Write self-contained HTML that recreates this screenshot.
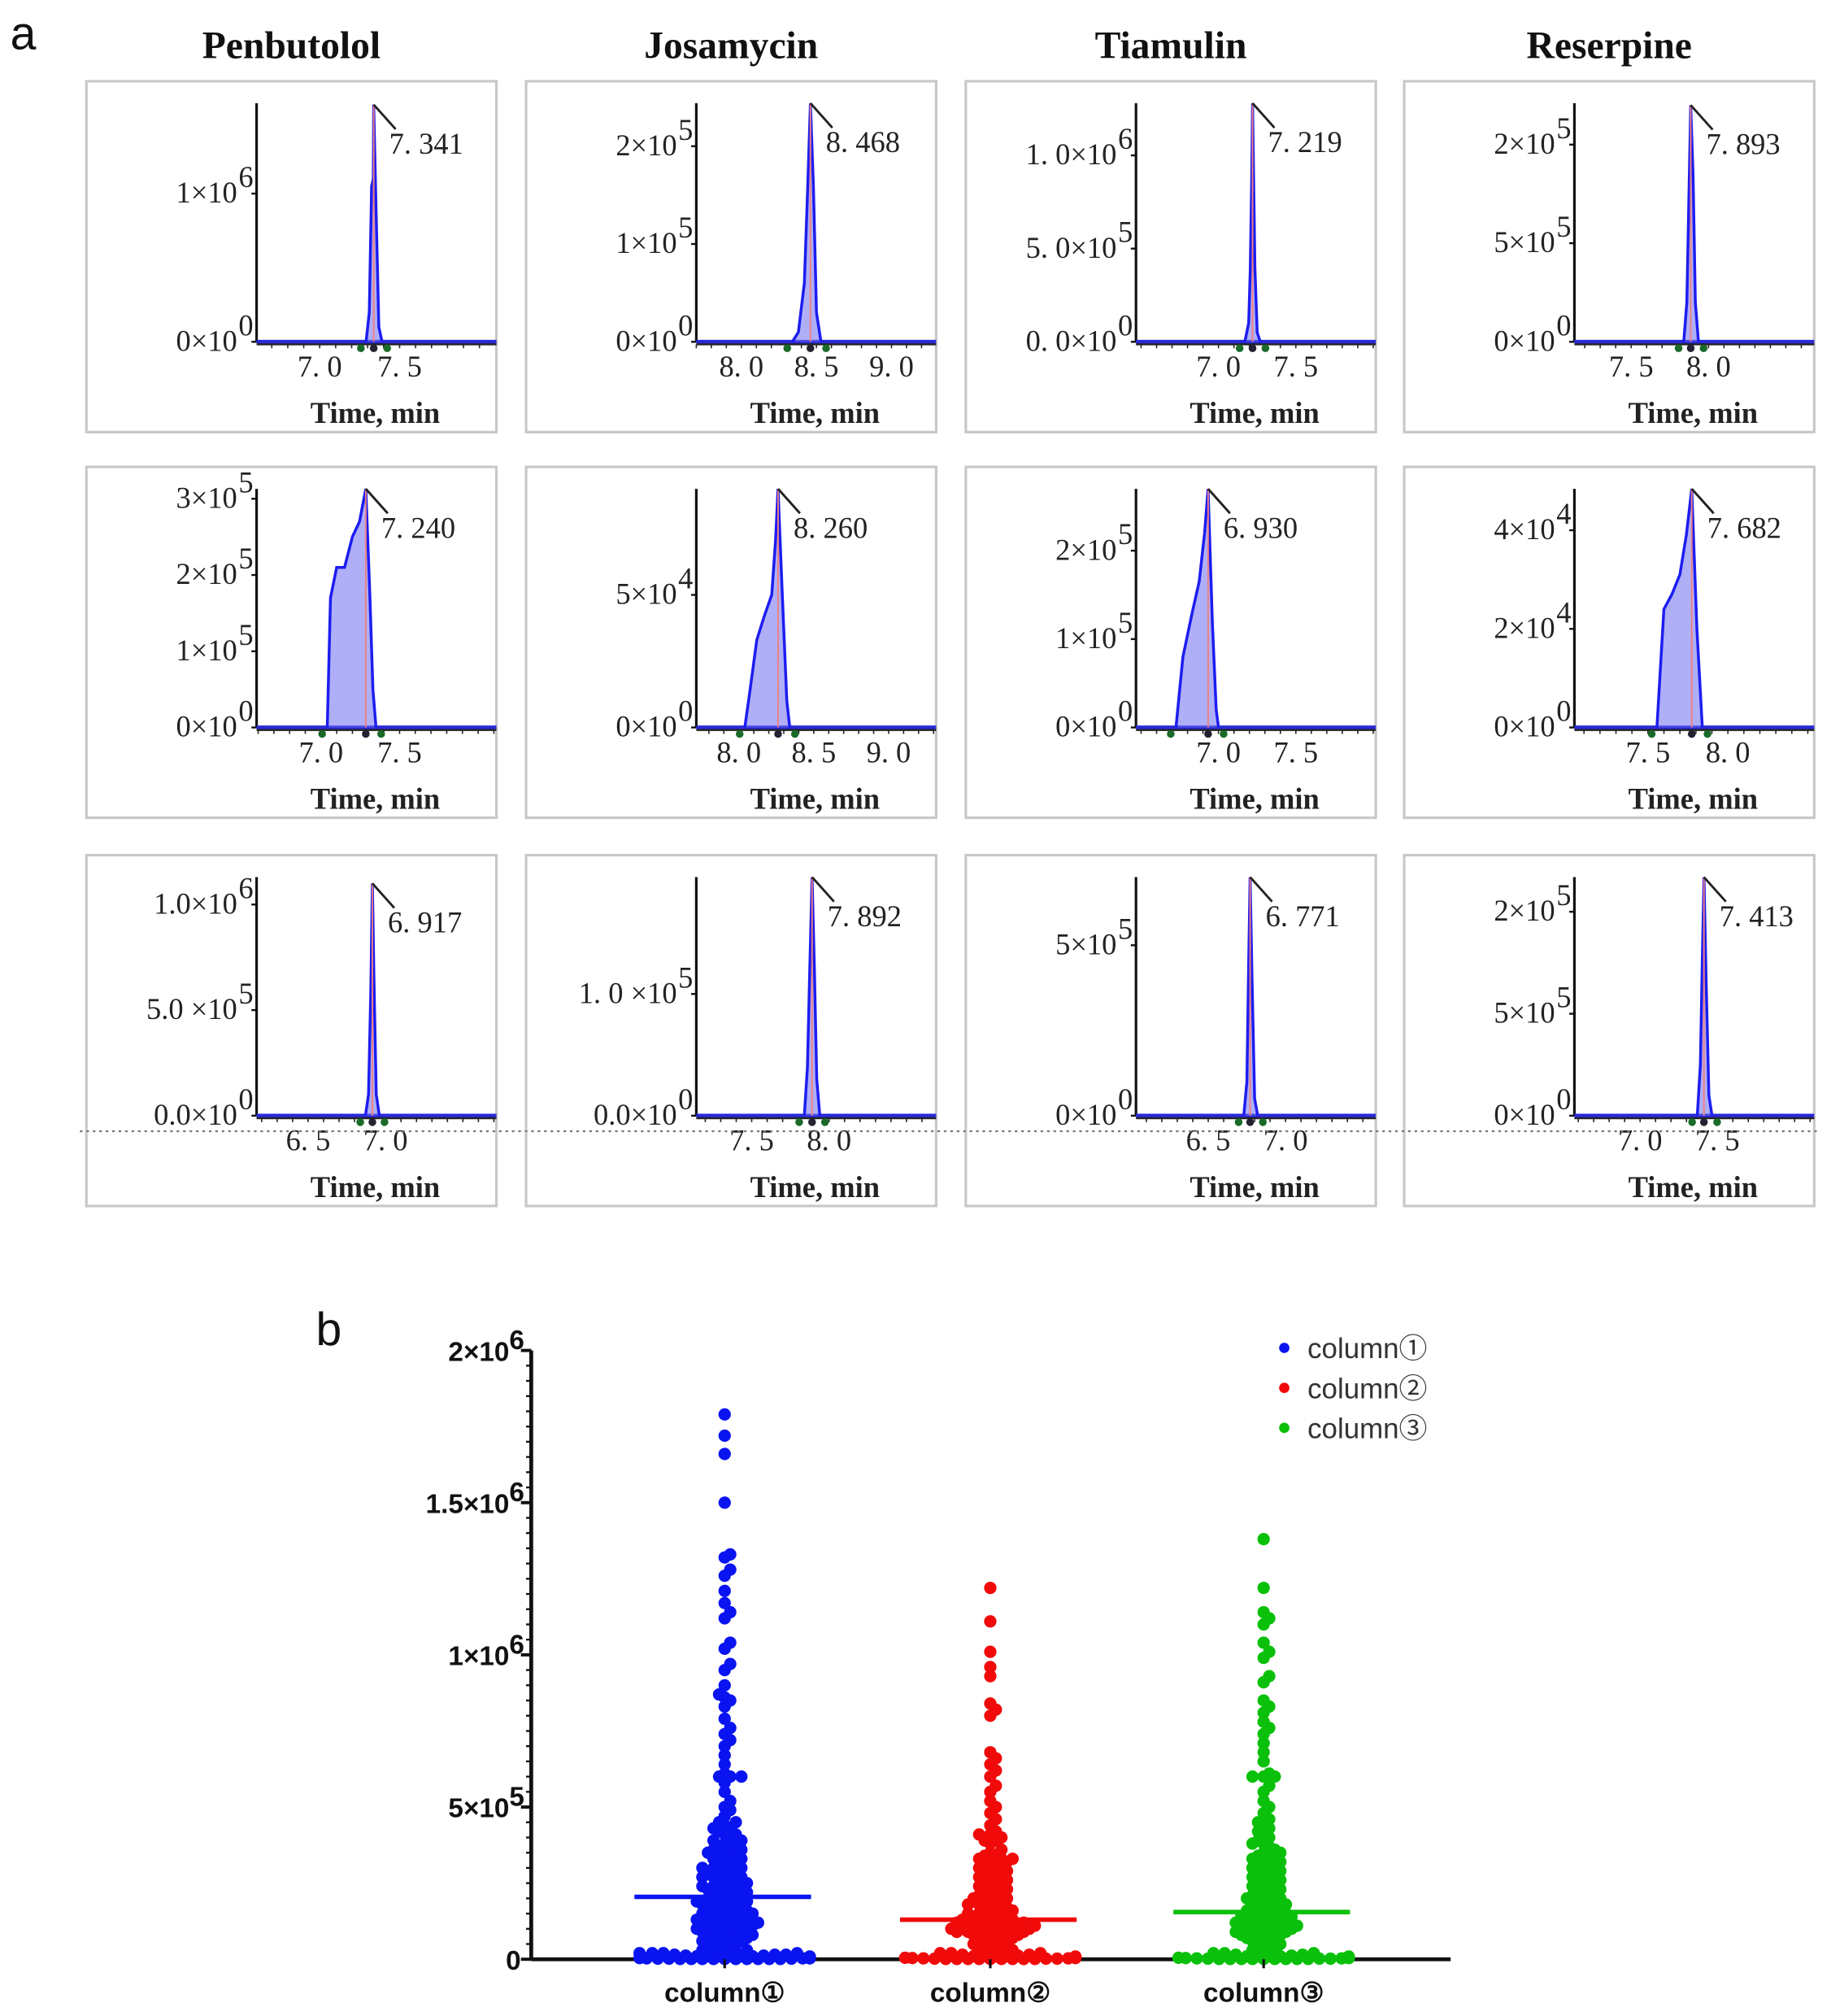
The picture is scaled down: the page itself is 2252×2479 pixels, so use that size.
<!DOCTYPE html>
<html><head><meta charset="utf-8"><style>
html,body{margin:0;padding:0;background:#fff;}
svg{display:block;}
.tk{font-family:"Liberation Serif","Noto Serif CJK SC",serif;font-size:23px;fill:#222;}
.ttl{font-family:"Liberation Serif",serif;font-weight:bold;font-size:30px;fill:#111;}
.bl{font-family:"Liberation Sans",sans-serif;font-weight:bold;font-size:21px;fill:#111;}
.lg{font-family:"Liberation Sans","Noto Sans CJK SC",sans-serif;font-size:22px;fill:#333;}
</style></head><body>
<svg id="fig" width="2252" height="2479" viewBox="0 0 1420 1563" preserveAspectRatio="none" xmlns="http://www.w3.org/2000/svg">
<rect width="1420" height="1563" fill="#fff"/>
<text x="8" y="38" font-family="Liberation Sans,sans-serif" font-size="36" fill="#111">a</text>
<text x="245" y="1043" font-family="Liberation Sans,sans-serif" font-size="36" fill="#111">b</text>
<g id="pa"></g><g id="pb"></g>
</svg>
<script>
// ---------- Panel a data ----------
const compounds=["Penbutolol","Josamycin","Tiamulin","Reserpine"];
const tMin=[[6.605,7.70,6.467,7.133],[6.59,7.716,6.467,7.04],[6.167,7.142,6.033,6.575]];
const tMax=[[8.09,9.28,8.0,8.667],[8.10,9.30,8.0,8.524],[7.70,8.675,7.567,8.11]];
const xTicks=[[[7.0,7.5],[8.0,8.5,9.0],[7.0,7.5],[7.5,8.0]],[[7.0,7.5],[8.0,8.5,9.0],[7.0,7.5],[7.5,8.0]],[[6.5,7.0],[7.5,8.0],[6.5,7.0],[7.0,7.5]]];
const xTickLabels=[[["7. 0","7. 5"],["8. 0","8. 5","9. 0"],["7. 0","7. 5"],["7. 5","8. 0"]],[["7. 0","7. 5"],["8. 0","8. 5","9. 0"],["7. 0","7. 5"],["7. 5","8. 0"]],[["6. 5","7. 0"],["7. 5","8. 0"],["6. 5","7. 0"],["7. 0","7. 5"]]];
const yMax=[[1.61e6,2.44e5,1.28e6,2.42],[3.13e5,9.0e4,2.7e5,4.84e4],[1.13e6,1.96e5,7.0e5,2.34]];
const yTicks=[[[0,1e6],[0,1e5,2e5],[0,5e5,1e6],[0,1,2]],[[0,1e5,2e5,3e5],[0,5e4],[0,1e5,2e5],[0,2e4,4e4]],[[0,5e5,1e6],[0,1e5],[0,5e5],[0,1,2]]];
const yTickLabels=[[[["0×10","0"],["1×10","6"]],[["0×10","0"],["1×10","5"],["2×10","5"]],[["0. 0×10","0"],["5. 0×10","5"],["1. 0×10","6"]],[["0×10","0"],["5×10","5"],["2×10","5"]]],
[[["0×10","0"],["1×10","5"],["2×10","5"],["3×10","5"]],[["0×10","0"],["5×10","4"]],[["0×10","0"],["1×10","5"],["2×10","5"]],[["0×10","0"],["2×10","4"],["4×10","4"]]],
[[["0.0×10","0"],["5.0 ×10","5"],["1.0×10","6"]],[["0.0×10","0"],["1. 0 ×10","5"]],[["0×10","0"],["5×10","5"]],[["0×10","0"],["5×10","5"],["2×10","5"]]]];
const peakLabels=[["7. 341","8. 468","7. 219","7. 893"],["7. 240","8. 260","6. 930","7. 682"],["6. 917","7. 892","6. 771","7. 413"]];
const peaks=[
 [[[7.29,0],[7.31,2e5],[7.325,1.05e6],[7.335,1.1e6],[7.338,1.6e6],[7.355,8e5],[7.37,1e5],[7.39,0]],
  [[8.34,0],[8.38,1e4],[8.42,6e4],[8.44,1.5e5],[8.46,2.44e5],[8.48,1.6e5],[8.50,3e4],[8.53,0]],
  [[7.17,0],[7.195,1e5],[7.205,3.8e5],[7.215,9e5],[7.22,1.28e6],[7.235,4e5],[7.25,5e4],[7.27,0]],
  [[7.84,0],[7.86,4e-1],[7.875,1.6],[7.885,2.4],[7.90,1.7],[7.915,0.4],[7.935,0]]],
 [[[7.04,0],[7.06,1.7e5],[7.10,2.1e5],[7.15,2.1e5],[7.20,2.5e5],[7.245,2.7e5],[7.285,3.13e5],[7.31,1.8e5],[7.33,5e4],[7.35,0]],
  [[8.04,0],[8.07,1.2e4],[8.12,3.3e4],[8.17,4.2e4],[8.22,5e4],[8.245,7e4],[8.262,9e4],[8.29,5e4],[8.32,1e4],[8.34,0]],
  [[6.725,0],[6.77,8e4],[6.83,1.3e5],[6.875,1.65e5],[6.91,2.2e5],[6.933,2.7e5],[6.96,1.2e5],[6.985,2e4],[7.0,0]],
  [[7.556,0],[7.60,2.4e4],[7.65,2.7e4],[7.70,3.1e4],[7.74,3.9e4],[7.774,4.84e4],[7.806,2e4],[7.84,0]]],
 [[[6.87,0],[6.89,1e5],[6.905,6e5],[6.915,1.1e6],[6.925,6.5e5],[6.94,1e5],[6.96,0]],
  [[7.84,0],[7.86,4e4],[7.875,1.2e5],[7.89,1.96e5],[7.905,1.2e5],[7.92,3e4],[7.94,0]],
  [[6.73,0],[6.75,1e5],[6.762,4.5e5],[6.771,7.0e5],[6.783,4e5],[6.80,5e4],[6.82,0]],
  [[7.37,0],[7.39,0.5],[7.403,1.6],[7.413,2.34],[7.428,1.3],[7.445,0.2],[7.465,0]]]
];
const colX=[67,408,749,1089], rowY=[63,362,663];
const NS="http://www.w3.org/2000/svg";
function mk(tag,attrs,parent,txt){const e=document.createElementNS(NS,tag);for(const k in attrs)e.setAttribute(k,attrs[k]);if(txt!==undefined)e.textContent=txt;parent.appendChild(e);return e;}
const pa=document.getElementById('pa');
for(let c=0;c<4;c++){
  const t=mk('text',{x:colX[c]+159,y:45,'text-anchor':'middle',class:'ttl'},pa,compounds[c]);
  
  
}
for(let r=0;r<3;r++)for(let c=0;c<4;c++){
  const L=colX[c], T=rowY[r];
  const g=mk('g',{},pa);
  
  
  mk('rect',{x:L,y:T,width:318,height:272,fill:'#fff',stroke:'#c8c8c8','stroke-width':2},g);
  const x0=L+132,x1=L+316,yb=T+202,yt=T+17;
  const sx=v=>x0+(v-tMin[r][c])/(tMax[r][c]-tMin[r][c])*(x1-x0);
  const sy=v=>yb-v/yMax[r][c]*(yb-yt);
  mk('line',{x1:x0,y1:yt,x2:x0,y2:yb,stroke:'#111','stroke-width':2},g);
  yTicks[r][c].forEach((v,i)=>{
    const y=sy(v);
    mk('line',{x1:x0-4,y1:y,x2:x0,y2:y,stroke:'#111','stroke-width':1.5},g);
    const tx=mk('text',{x:x0-15,y:y+7,'text-anchor':'end',class:'tk'},g,yTickLabels[r][c][i][0]);
    
    
    mk('text',{x:x0-14,y:y-5,class:'tk','font-size':'15'},g,yTickLabels[r][c][i][1]);
  });
  mk('line',{x1:x0,y1:yb,x2:x1+2,y2:yb,stroke:'#2a2ad8','stroke-width':3},g);
  mk('line',{x1:x0,y1:yb+2,x2:x1+2,y2:yb+2,stroke:'#222','stroke-width':1.5},g);
  for(let tv=Math.ceil(tMin[r][c]*10)/10;tv<tMax[r][c];tv+=0.1){mk('line',{x1:sx(tv),y1:yb+2,x2:sx(tv),y2:yb+5,stroke:'#222','stroke-width':1},g);}
  xTicks[r][c].forEach((v,i)=>{
    const tx=mk('text',{x:sx(v),y:yb+27,'text-anchor':'middle',class:'tk'},g,xTickLabels[r][c][i]);
    
    
  });
  const xl=mk('text',{x:L+224,y:yb+63,'text-anchor':'middle',class:'tk','font-weight':'bold'},g,'Time, min');
  
  
  const pts=peaks[r][c];
  let d='M'+pts.map(p=>sx(p[0]).toFixed(1)+','+sy(p[1]).toFixed(1)).join(' L');
  const fillP=mk('path',{d:d+' Z',fill:'rgba(110,110,240,0.55)',stroke:'none'},g);
  
  
  const ln=mk('path',{d:d,fill:'none',stroke:'#1d1df0','stroke-width':2.2},g);
  
  
  let apex=pts[0];pts.forEach(p=>{if(p[1]>apex[1])apex=p;});
  const ax=sx(apex[0]),ay=sy(apex[1]);
  mk('line',{x1:ax,y1:ay,x2:ax,y2:yb,stroke:'#f08080','stroke-width':1.2},g);
  mk('line',{x1:ax,y1:ay,x2:ax+17,y2:ay+19,stroke:'#222','stroke-width':1.8},g);
  const pl=mk('text',{x:ax+12,y:ay+38,class:'tk'},g,peakLabels[r][c]);
  
  
  const s=sx(pts[0][0]),e=sx(pts[pts.length-1][0]);
  [s-4,ax,e+4].forEach((mx,i)=>mk('circle',{cx:mx,cy:yb+5,r:3,fill:i===1?'#223':'#1a6b2a'},g));
}
mk('line',{x1:62,y1:877,x2:1412,y2:877,stroke:'#777','stroke-width':1.4,'stroke-dasharray':'2,3'},pa);

// ---------- Panel b data (units of 1e4) ----------
const categories=["column①","column②","column③"];
const col1Values=[179,172,166,150,133,132,128,126,121,117,114,112,104,102,97,95,90,87,86,85,83,79,76,74,72,70,67,64,61,60,60,60,58,55,52,50,49,47,45,44,43,42,41,40,39,38,37,36,35,35,34,33,32,31,30,30,29,28,28,27,26,25,25,24,24,23,22,22,21,20,20,19,19,18,18,17,17,16,16,15,15,14,14,13,13,12,12,12,11,11,10,10,10,9,9,8,8,8,7,7,6,6,5,5,5,4,4,3,3,3,2.5,2.5,2,2,2,2,1.5,1.5,1.5,1.2,1.2,1,1,1,1,1,1,0.9,0.9,0.8,0.8,0.7,0.7,0.6,0.6,0.5,0.5,0.5,0.4,0.4,0.3,0.3,0.3,0.2,0.2,0.2,0.1,0.1,0.1,0.1,0.1,0.1,0.1,0.1,0.1,0.1,
45,43,41,39,37,35,33,31,29,27,25,23,21,19,17,15,13,11,9,7,38,34,30,26,22,18,14,10,6,36,32,28,24,20,16,12,8,27,23,19,15,13,11];
const col2Values=[122,111,101,96,93,84,82,80,68,66,64,62,60,57,55,52,50,48,46,44,42,41,40,39,38,36,34,33,33,32,31,30,29,28,27,26,25,24,23,22,21,20,20,19,18,18,17,16,16,15,15,14,14,13,13,12,12,12,11,11,11,10,10,10,10,9,9,9,8,8,8,7,7,6,6,5,5,5,4,4,3,3,3,2.5,2,2,2,1.5,1.5,1.2,1,1,1,1,0.9,0.8,0.8,0.7,0.6,0.6,0.5,0.5,0.4,0.4,0.3,0.3,0.2,0.2,0.2,0.1,0.1,0.1,0.1,0.1,0.1,0.1,0.1,0.1,
41,39,35,33,31,29,27,25,23,21,19,17,15,13,11,9,7,34,30,26,22,18,14,12,10,8,32,28,24,20,16,12,10,11,13,9];
const col3Values=[138,122,114,112,110,104,101,99,93,91,85,83,81,78,76,74,71,68,65,61,60,60,60,57,55,52,50,48,46,44,42,41,40,38,36,35,34,33,32,31,30,29,28,27,26,25,24,23,22,21,20,20,19,18,18,17,16,16,15,15,14,14,13,13,12,12,12,11,11,10,10,10,9,9,8,8,7,7,6,6,5,5,4,4,3,3,2.5,2,2,2,1.5,1.5,1.2,1,1,1,1,0.9,0.8,0.8,0.7,0.6,0.6,0.5,0.5,0.4,0.4,0.3,0.3,0.2,0.2,0.2,0.1,0.1,0.1,0.1,0.1,0.1,0.1,0.1,0.1,
45,43,39,37,35,33,31,29,27,25,23,21,19,17,15,13,11,9,7,38,34,30,26,22,18,14,10,8,32,28,24,20,16,12,14,11,9];
const meanValues=[2.05e5,1.3e5,1.55e5];
const yTickValsB=[0,5e5,1e6,1.5e6,2e6];
const yTickLabelsB=[["0",""],["5×10","5"],["1×10","6"],["1.5×10","6"],["2×10","6"]];
const colors=["#0a14f0","#f00a0a","#0ac00a"];
const unit=1e4;
const pb=document.getElementById('pb');
const bx0=412,bx1=1125,by0=1519,by1=1047;
const syB=v=>by0-v/2e6*(by0-by1);
const catX=[562,768,980];
const xa=mk('line',{x1:bx0,y1:by0,x2:bx1,y2:by0,stroke:'#111','stroke-width':3},pb);


const ya=mk('line',{x1:bx0,y1:by1,x2:bx0,y2:by0,stroke:'#111','stroke-width':3},pb);


for(let v=0;v<=2e6;v+=5e4){mk('line',{x1:bx0-4,y1:syB(v),x2:bx0,y2:syB(v),stroke:'#111','stroke-width':1.5},pb);}
yTickValsB.forEach((v,i)=>{
  const y=syB(v);
  mk('line',{x1:bx0-8,y1:y,x2:bx0,y2:y,stroke:'#111','stroke-width':2.5},pb);
  const hasExp=yTickLabelsB[i][1]!=="";
  const t=mk('text',{x:hasExp?bx0-17:bx0-8,y:y+8,'text-anchor':'end',class:'bl'},pb,yTickLabelsB[i][0]);
  
  
  if(hasExp)mk('text',{x:bx0-17,y:y-1,class:'bl','font-size':'13','font-weight':'normal'},pb,yTickLabelsB[i][1]);
});
const allCols=[col1Values,col2Values,col3Values];
const R=4.8;
allCols.forEach((vals,ci)=>{
  const g=mk('g',{},pb);
  
  
  const ys=vals.map(v=>syB(v*unit)).sort((a,b)=>b-a);
  const placed=[];
  ys.forEach(y=>{
    let best=0;
    for(let k=0;k<60;k++){
      const off=(k%2?1:-1)*Math.ceil(k/2)*R*0.9;
      let ok=true;
      for(const p of placed){if((p[0]-off)**2+(p[1]-y)**2<(2*R*0.5)**2){ok=false;break;}}
      if(ok){best=off;break;}
      best=off;
    }
    best=Math.max(-66,Math.min(66,best));
    placed.push([best,y]);
    const dot=mk('circle',{cx:catX[ci]+best,cy:y,r:R,fill:colors[ci]},g);
    
    
  });
  const ml=mk('line',{x1:catX[ci]-70,y1:syB(meanValues[ci]),x2:catX[ci]+67,y2:syB(meanValues[ci]),stroke:colors[ci],'stroke-width':3.5},pb);
  
  
  mk('line',{x1:catX[ci],y1:by0,x2:catX[ci],y2:by0+7,stroke:'#111','stroke-width':2},pb);
  const cl=mk('text',{x:catX[ci],y:by0+33,'text-anchor':'middle',class:'bl','font-size':'22'},pb,categories[ci]);
  
  
  const lg=mk('g',{},pb);
  
  
  mk('circle',{cx:996,cy:1045+ci*31,r:4,fill:colors[ci]},lg);
  mk('text',{x:1014,y:1053+ci*31,class:'lg'},lg,categories[ci]);
});
</script>
</body></html>
